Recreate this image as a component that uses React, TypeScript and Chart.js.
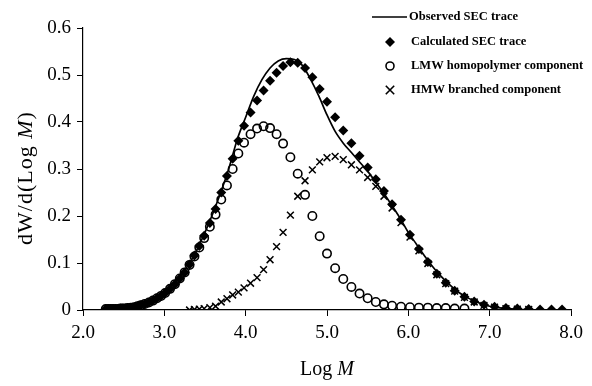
import React, { useEffect, useRef } from 'react';
import { Chart, registerables } from 'chart.js';

Chart.register(...registerables);

// ---- data ----
const logM = [
  2.28, 2.31, 2.34, 2.37, 2.40, 2.43, 2.46, 2.49, 2.52, 2.55, 2.59, 2.63, 2.67, 2.71, 2.76, 2.81,
  2.86, 2.91, 2.96, 3.01, 3.07, 3.13, 3.19, 3.25, 3.31, 3.37, 3.43, 3.49, 3.56, 3.63, 3.70, 3.77,
  3.84, 3.91, 3.98, 4.06, 4.14, 4.22, 4.30, 4.38, 4.46, 4.55, 4.64, 4.73, 4.82, 4.91, 5.00, 5.10,
  5.20, 5.30, 5.40, 5.50, 5.60, 5.70, 5.80, 5.91, 6.02, 6.13, 6.24, 6.35, 6.46, 6.57, 6.69, 6.81,
  6.93, 7.06, 7.20, 7.34, 7.48, 7.62, 7.76, 7.89,
];

const calculatedSEC = [
  0.002, 0.002, 0.002, 0.002, 0.002, 0.002, 0.003, 0.003, 0.003, 0.004, 0.005, 0.006, 0.008, 0.010, 0.013, 0.016,
  0.020, 0.025, 0.030, 0.036, 0.045, 0.055, 0.067, 0.080, 0.097, 0.116, 0.136, 0.158, 0.185, 0.215, 0.250, 0.285,
  0.322, 0.360, 0.392, 0.420, 0.446, 0.467, 0.488, 0.505, 0.519, 0.527, 0.526, 0.515, 0.495, 0.470, 0.443, 0.410,
  0.382, 0.355, 0.328, 0.303, 0.278, 0.253, 0.225, 0.192, 0.160, 0.130, 0.102, 0.077, 0.058, 0.041, 0.028, 0.018,
  0.011, 0.007, 0.004, 0.003, 0.002, 0.001, 0.001, 0.001,
];

const lmwComponent = [
  0.002, 0.002, 0.002, 0.002, 0.002, 0.002, 0.003, 0.003, 0.003, 0.004, 0.005, 0.006, 0.008, 0.010, 0.013, 0.016,
  0.020, 0.025, 0.030, 0.036, 0.045, 0.055, 0.067, 0.080, 0.096, 0.114, 0.133, 0.153, 0.177, 0.203, 0.235, 0.265,
  0.300, 0.333, 0.356, 0.374, 0.386, 0.391, 0.387, 0.374, 0.354, 0.325, 0.290, 0.245, 0.200, 0.157, 0.120, 0.089,
  0.066, 0.049, 0.035, 0.025, 0.017, 0.012, 0.009, 0.007, 0.006, 0.005, 0.005, 0.004, 0.004, 0.003, 0.003, null,
  null, null, null, null, null, null, null, null,
];

const hmwComponent = [
  null, null, null, null, null, null, null, null, null, null, null, null, null, null, null, null,
  null, null, null, null, null, null, null, null, 0.000, 0.001, 0.002, 0.003, 0.005, 0.008, 0.017, 0.024,
  0.032, 0.038, 0.047, 0.057, 0.069, 0.086, 0.107, 0.135, 0.165, 0.202, 0.242, 0.275, 0.298, 0.315, 0.324, 0.327,
  0.320, 0.309, 0.298, 0.282, 0.263, 0.242, 0.217, 0.186, 0.155, 0.126, 0.099, 0.075, 0.056, 0.040, 0.027, 0.017,
  0.010, 0.006, 0.003, 0.002, 0.001, null, null, null,
];

const observedLogM = [
  2.3, 2.4, 2.5, 2.6, 2.7, 2.8, 2.9, 3.0, 3.1, 3.2, 3.3, 3.4, 3.5, 3.6, 3.7, 3.8, 3.9, 4.0, 4.1, 4.2,
  4.3, 4.4, 4.5, 4.6, 4.7, 4.8, 4.9, 5.0, 5.1, 5.2, 5.3, 5.4, 5.5, 5.6, 5.7, 5.8, 5.9, 6.0, 6.1, 6.2,
  6.3, 6.4, 6.5, 6.6, 6.7, 6.8, 6.9, 7.0, 7.1, 7.2, 7.3, 7.4, 7.5,
];

const observedSEC = [
  0.002, 0.002, 0.003, 0.005, 0.010, 0.017, 0.026, 0.038, 0.054, 0.073, 0.097, 0.128, 0.165, 0.207, 0.253, 0.305,
  0.365, 0.410, 0.455, 0.490, 0.515, 0.530, 0.535, 0.533, 0.520, 0.490, 0.455, 0.415, 0.380, 0.355, 0.335, 0.315,
  0.295, 0.272, 0.248, 0.222, 0.195, 0.165, 0.140, 0.115, 0.092, 0.072, 0.055, 0.040, 0.029, 0.020, 0.013, 0.008,
  0.005, 0.003, 0.002, 0.001, 0.001,
];

const xTickValues = [2, 3, 4, 5, 6, 7, 8];
const yTickValues = [0, 0.1, 0.2, 0.3, 0.4, 0.5, 0.6];

const legendLabels = [
  'Observed SEC trace',
  'Calculated SEC trace',
  'LMW homopolymer component',
  'HMW branched component',
];

const FONT = "'Liberation Serif', 'Times New Roman', serif";

function pairs(xs: number[], ys: (number | null)[]) {
  const out: { x: number; y: number }[] = [];
  xs.forEach((x, i) => {
    const y = ys[i];
    if (y !== null && y !== undefined) out.push({ x, y });
  });
  return out;
}

const decorPlugin = {
  id: 'decor',
  afterDraw(chart: any) {
    const ctx = chart.ctx as CanvasRenderingContext2D;
    const area = chart.chartArea;
    ctx.save();
    ctx.fillStyle = '#000';
    ctx.strokeStyle = '#000';

    // x title "Log M"
    const a = 'Log ';
    ctx.font = `20px ${FONT}`;
    const wA = ctx.measureText(a).width;
    ctx.font = `italic 20px ${FONT}`;
    const wM = ctx.measureText('M').width;
    const cx = (area.left + area.right) / 2;
    const sx = cx - (wA + wM) / 2;
    ctx.textBaseline = 'alphabetic';
    ctx.textAlign = 'left';
    ctx.font = `20px ${FONT}`;
    ctx.fillText(a, sx, 375);
    ctx.font = `italic 20px ${FONT}`;
    ctx.fillText('M', sx + wA, 375);

    // y title "dW/d(Log M)"
    const p1 = 'dW/d(Log ';
    const p3 = ')';
    const ysz = 22;
    (ctx as any).letterSpacing = '1px';
    ctx.font = `${ysz}px ${FONT}`;
    const w1 = ctx.measureText(p1).width;
    const w3 = ctx.measureText(p3).width;
    ctx.font = `italic ${ysz}px ${FONT}`;
    const w2 = ctx.measureText('M').width;
    const total = w1 + w2 + w3;
    ctx.save();
    ctx.translate(32, 178);
    ctx.rotate(-Math.PI / 2);
    let tx = -total / 2;
    ctx.font = `${ysz}px ${FONT}`;
    ctx.fillText(p1, tx, 0);
    tx += w1;
    ctx.font = `italic ${ysz}px ${FONT}`;
    ctx.fillText('M', tx, 0);
    tx += w2;
    ctx.font = `${ysz}px ${FONT}`;
    ctx.fillText(p3, tx, 0);
    ctx.restore();
    (ctx as any).letterSpacing = '0px';

    // legend
    const rows = [17, 42, 66, 90];
    const mx = 390;
    ctx.lineWidth = 1.6;
    ctx.beginPath();
    ctx.moveTo(372, rows[0]);
    ctx.lineTo(407, rows[0]);
    ctx.stroke();
    // diamond
    ctx.beginPath();
    ctx.moveTo(mx, rows[1] - 5);
    ctx.lineTo(mx + 5, rows[1]);
    ctx.lineTo(mx, rows[1] + 5);
    ctx.lineTo(mx - 5, rows[1]);
    ctx.closePath();
    ctx.fill();
    // circle
    ctx.beginPath();
    ctx.arc(mx, rows[2], 4, 0, Math.PI * 2);
    ctx.stroke();
    // cross
    ctx.beginPath();
    ctx.moveTo(mx - 4.2, rows[3] - 4.2);
    ctx.lineTo(mx + 4.2, rows[3] + 4.2);
    ctx.moveTo(mx + 4.2, rows[3] - 4.2);
    ctx.lineTo(mx - 4.2, rows[3] + 4.2);
    ctx.stroke();

    ctx.font = `bold 12.5px ${FONT}`;
    ctx.textBaseline = 'middle';
    ctx.fillText(legendLabels[0], 409, rows[0]);
    ctx.fillText(legendLabels[1], 411, rows[1]);
    ctx.fillText(legendLabels[2], 411, rows[2]);
    ctx.fillText(legendLabels[3], 411, rows[3]);
    ctx.restore();
  },
};

export default function App() {
  const ref = useRef<HTMLCanvasElement | null>(null);

  useEffect(() => {
    document.body.style.margin = '0';
    const canvas = ref.current;
    if (!canvas) return;

    const chart = new Chart(canvas, {
      type: 'scatter',
      data: {
        datasets: [
          {
            label: legendLabels[1],
            data: pairs(logM, calculatedSEC),
            pointStyle: 'rectRot',
            pointRadius: 5,
            backgroundColor: '#000',
            borderColor: '#000',
            borderWidth: 0,
            order: 1,
          },
          {
            label: legendLabels[0],
            data: pairs(observedLogM, observedSEC),
            showLine: true,
            pointRadius: 0,
            borderColor: '#000',
            borderWidth: 1.7,
            tension: 0.4,
            cubicInterpolationMode: 'monotone',
            order: 2,
          },
          {
            label: legendLabels[2],
            data: pairs(logM, lmwComponent),
            pointStyle: 'circle',
            pointRadius: 4.2,
            backgroundColor: 'rgba(0,0,0,0)',
            borderColor: '#000',
            borderWidth: 1.6,
            order: 3,
          },
          {
            label: legendLabels[3],
            data: pairs(logM, hmwComponent),
            pointStyle: 'crossRot',
            pointRadius: 4.8,
            borderColor: '#000',
            borderWidth: 1.5,
            order: 4,
          },
        ] as any,
      },
      options: {
        responsive: false,
        animation: false,
        devicePixelRatio: 1,
        layout: { padding: { top: 28, right: 21, left: 0, bottom: 0 } },
        plugins: {
          legend: { display: false },
          tooltip: { enabled: false },
        },
        scales: {
          x: {
            type: 'linear',
            min: 2,
            max: 8,
            afterBuildTicks: (scale: any) => {
              scale.ticks = xTickValues.map((v) => ({ value: v }));
            },
            afterFit: (scale: any) => {
              scale.height = 76;
            },
            ticks: {
              color: '#000',
              font: { family: FONT, size: 19 },
              padding: 6,
              maxRotation: 0,
              callback: (v: any) => Number(v).toFixed(1),
            },
            grid: {
              display: true,
              drawOnChartArea: false,
              drawTicks: true,
              tickLength: 6,
              color: '#000',
            },
            border: { display: true, color: '#000', width: 1.2 },
          },
          y: {
            type: 'linear',
            min: 0,
            max: 0.6,
            afterBuildTicks: (scale: any) => {
              scale.ticks = yTickValues.map((v) => ({ value: v }));
            },
            afterFit: (scale: any) => {
              scale.width = 83;
            },
            ticks: {
              color: '#000',
              font: { family: FONT, size: 19 },
              padding: 6,
              callback: (v: any) => (Number(v) === 0 ? '0' : Number(v).toFixed(1)),
            },
            grid: {
              display: true,
              drawOnChartArea: false,
              drawTicks: true,
              tickLength: 6,
              color: '#000',
            },
            border: { display: true, color: '#000', width: 1.2 },
          },
        },
      } as any,
      plugins: [decorPlugin],
    });

    return () => chart.destroy();
  }, []);

  return (
    <div style={{ width: 592, height: 386, background: '#fff' }}>
      <canvas ref={ref} width={592} height={386} style={{ display: 'block' }} />
    </div>
  );
}
